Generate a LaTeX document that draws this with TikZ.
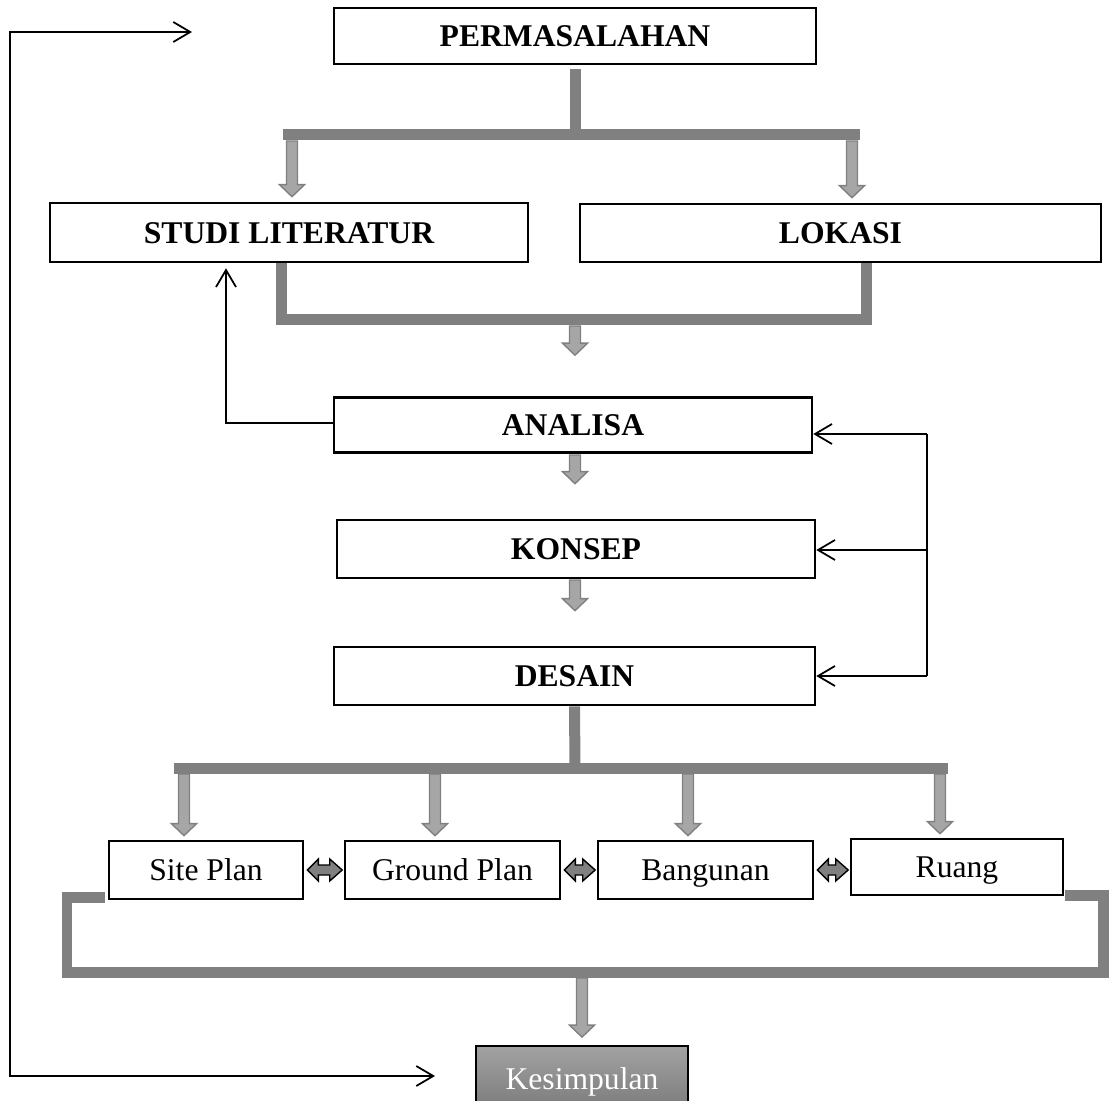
\documentclass[tikz,border=0pt]{standalone}
\usepackage{fontspec}
\setmainfont{Liberation Serif}
\usepackage{xcolor}
\usetikzlibrary{arrows.meta,calc}

\definecolor{abu}{RGB}{128,128,128}
\definecolor{abumuda}{RGB}{166,166,166}

% panah blok ke bawah: dari titik #1 sampai jarak #3 di atas node #2
\newcommand{\panahblok}[3]{%
  \draw[blok] let \p1=(#1), \p2=(#2) in
    (\x1-0.11cm,\y1) -- (\x1-0.11cm,\y2+#3+0.24cm) -- (\x1-0.25cm,\y2+#3+0.24cm)
    -- (\x1,\y2+#3) -- (\x1+0.25cm,\y2+#3+0.24cm) -- (\x1+0.11cm,\y2+#3+0.24cm)
    -- (\x1+0.11cm,\y1) -- cycle;}

% panah dua arah antara dua node
\newcommand{\panahdua}[2]{%
  \draw[dua] let \p1=(#1.east), \p2=(#2.west) in
    (\x1+0.06cm,\y1) -- (\x1+0.28cm,\y1+0.22cm) -- (\x1+0.28cm,\y1+0.1cm)
    -- (\x2-0.28cm,\y1+0.1cm) -- (\x2-0.28cm,\y1+0.22cm) -- (\x2-0.03cm,\y1)
    -- (\x2-0.28cm,\y1-0.22cm) -- (\x2-0.28cm,\y1-0.1cm) -- (\x1+0.28cm,\y1-0.1cm)
    -- (\x1+0.28cm,\y1-0.22cm) -- cycle;}

\begin{document}
\begin{tikzpicture}[x=0.02cm, y=-0.02cm, line join=miter,
  >={Straight Barb[length=3.4mm,width=4mm]},
  kotak/.style={draw, line width=1.5pt, inner sep=0pt, minimum height=1.16cm,
    text height=12pt, text depth=0pt,
    font=\fontsize{18}{21}\selectfont\bfseries},
  kotakbiasa/.style={kotak, font=\fontsize{18}{21}\selectfont},
  batang/.style={abu, line width=0.22cm},
  blok/.style={fill=abumuda, draw=abu, line width=0.8pt},
  dua/.style={fill=abu, draw=black, line width=0.8pt},
  tipis/.style={line width=1pt}]

\useasboundingbox (0,0) rectangle (1109,1101);

% Kotak utama
\node[kotak, minimum width=9.64cm, minimum height=1.12cm] (perm) at (575,36) {PERMASALAHAN};
\node[kotak, minimum width=9.56cm, minimum height=1.18cm] (studi) at (289,232.5) {STUDI LITERATUR};
\node[kotak, minimum width=10.42cm] (lokasi) at (840.5,233) {LOKASI};
\node[kotak, minimum width=9.56cm, minimum height=1.1cm] (analisa) at (573,425) {ANALISA};
\node[kotak, minimum width=9.56cm] (konsep) at (576,549) {KONSEP};
\node[kotak, minimum width=9.62cm] (desain) at (574.5,676) {DESAIN};

% Kotak desain
\node[kotakbiasa, minimum width=3.88cm] (site) at (206,870) {Site Plan};
\node[kotakbiasa, minimum width=4.3cm] (ground) at (452.5,870) {Ground Plan};
\node[kotakbiasa, minimum width=4.3cm] (bangunan) at (705.5,870) {Bangunan};
\node[kotakbiasa, minimum width=4.24cm, minimum height=1.12cm] (ruang) at (957,867) {Ruang};

% Kesimpulan
\node[kotakbiasa, minimum width=4.24cm, minimum height=1.32cm, line width=1pt,
  top color={rgb,255:red,162;green,162;blue,162},
  bottom color={rgb,255:red,122;green,122;blue,122}, text=white]
  (kesimpulan) at (582,1079) {Kesimpulan};

% Batang abu-abu
\coordinate (cabang1) at (575,135);
\draw[batang] ([yshift=-0.08cm]perm.south) -- (cabang1);
\draw[batang] (283,135) -- (860,135);
\coordinate (kumpul1) at (575,320);
\draw[batang] ([xshift=-0.16cm]studi.south) |- (kumpul1) -| ([xshift=0.51cm]lokasi.south);
\coordinate (cabang2) at (575,768);
\draw[batang] (desain.south) -- (cabang2);
\draw[batang] (174,768) -- (948,768);
\draw[batang] (105,897) -- (67,897) -- (67,972) -- (1103,972) -- (1103,895) -- (1065,895);

% Panah blok
\coordinate (p1) at (292,141);
\coordinate (p2) at (852,141);
\coordinate (p3) at (575,326);
\coordinate (p4) at (575,455);
\coordinate (p5) at (575,580);
\coordinate (p6) at (582,978);
\panahblok{p1}{studi.north}{0.1cm}
\panahblok{p2}{lokasi.north}{0.1cm}
\panahblok{p3}{analisa.north}{0.82cm}
\panahblok{p4}{konsep.north}{0.7cm}
\panahblok{p5}{desain.north}{0.7cm}
\foreach \x/\nama in {184/site, 435/ground, 688/bangunan, 940/ruang} {
  \coordinate (q) at (\x,774);
  \panahblok{q}{\nama.north}{0.08cm}
}
\panahblok{p6}{kesimpulan.north}{0.16cm}

% Panah dua arah
\foreach \a/\b in {site/ground, ground/bangunan, bangunan/ruang}
  \panahdua{\a}{\b};

% Umpan balik kanan
\coordinate (kananA) at (927,434);
\coordinate (kananK) at (927,550);
\coordinate (kananD) at (927,676);
\draw[tipis] (kananA) -- (kananD);
\draw[tipis,->] (kananA) -- (analisa.east |- kananA);
\draw[tipis,->] (kananK) -- (konsep.east |- kananK);
\draw[tipis,->] (kananD) -- (desain.east |- kananD);

% Umpan balik kiri
\coordinate (kiri) at (226,423);
\draw[tipis,->] (analisa.west |- kiri) -- (kiri) -- ([yshift=-0.1cm]kiri |- studi.south);

% Garis luar
\coordinate (ujungA) at (192,32);
\coordinate (luarA) at (10,32);
\coordinate (luarB) at (10,1076);
\coordinate (ujungB) at (435,1076);
\draw[tipis,<->] (ujungA) -- (luarA) -- (luarB) -- (ujungB);

\end{tikzpicture}
\end{document}
